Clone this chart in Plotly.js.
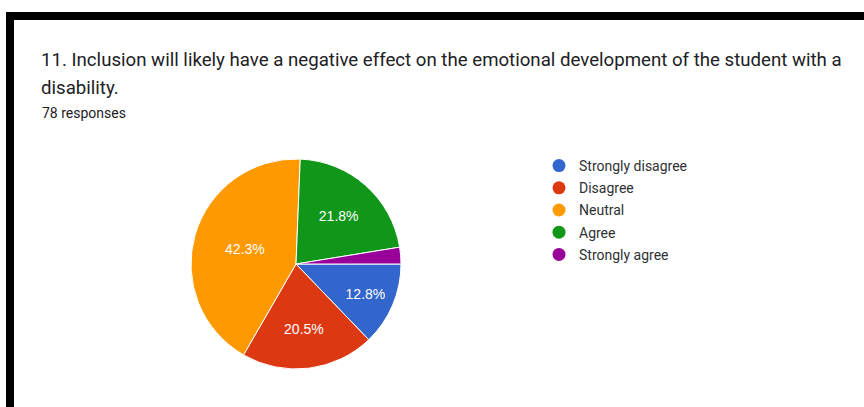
<!DOCTYPE html>
<html>
<head>
<meta charset="utf-8">
<script src="https://cdn.plot.ly/plotly-3.0.1.min.js"></script>
<style>
  html, body { margin: 0; padding: 0; background: #ffffff; }
  #chart { width: 864px; height: 407px; }
</style>
</head>
<body>
<div id="chart"></div>
<script>
// Data (78 responses)
const categories = ['Strongly disagree', 'Disagree', 'Neutral', 'Agree', 'Strongly agree'];
const counts = [10, 16, 33, 17, 2];
const colors = ['#3366cc', '#dc3912', '#ff9900', '#109618', '#990099'];
const titleLines = ['11. Inclusion will likely have a negative effect on the emotional development of the student with a', 'disability.'];
const subtitle = '78 responses';

const W = 864, H = 407;
const px = x => x / W;
const py = y => 1 - y / H;

const total = counts.reduce((a, b) => a + b, 0);
const labelsText = counts.map(c => {
  const p = c / total * 100;
  return p >= 5 ? p.toFixed(1) + '%' : '';
});

const pie = {
  type: 'pie',
  labels: categories,
  values: counts,
  marker: { colors: colors, line: { color: '#ffffff', width: 1 } },
  sort: false,
  direction: 'clockwise',
  rotation: 90,
  text: labelsText,
  textinfo: 'text',
  textposition: 'inside',
  insidetextorientation: 'horizontal',
  insidetextfont: { family: '"Liberation Sans", Arial, sans-serif', size: 14, color: '#ffffff' },
  hoverinfo: 'none',
  showlegend: false,
  domain: { x: [px(191), px(401)], y: [py(369), py(159)] }
};

const legendTraces = categories.map((c, i) => ({
  type: 'scatter',
  mode: 'markers',
  x: [null], y: [null],
  name: c,
  legendgroup: 'g' + i,
  marker: { color: colors[i], size: 13, symbol: 'circle' },
  hoverinfo: 'none',
  xaxis: 'x', yaxis: 'y'
}));

const annotations = [
  { text: titleLines[0], x: px(39), y: py(60), size: 18.65, color: '#202124' },
  { text: titleLines[1], x: px(39), y: py(88), size: 18.65, color: '#202124' },
  { text: subtitle, x: px(40), y: py(113), size: 14, color: '#202124' }
].map(a => ({
  xref: 'paper', yref: 'paper', x: a.x, y: a.y,
  xanchor: 'left', yanchor: 'middle', showarrow: false,
  text: a.text, font: { family: 'Roboto, Arial, sans-serif', size: a.size, color: a.color }
}));

const layout = {
  width: W, height: H,
  margin: { l: 0, r: 0, t: 0, b: 0 },
  paper_bgcolor: '#ffffff', plot_bgcolor: 'rgba(0,0,0,0)',
  xaxis: { visible: false, domain: [0.9, 1] },
  yaxis: { visible: false, domain: [0.9, 1] },
  showlegend: true,
  legend: {
    x: px(539), y: py(150), xanchor: 'left', yanchor: 'top',
    font: { family: 'Roboto, Arial, sans-serif', size: 14, color: '#303134' },
    tracegroupgap: 1,
    bgcolor: 'rgba(0,0,0,0)'
  },
  annotations: annotations,
  shapes: [
    { type: 'rect', xref: 'paper', yref: 'paper', x0: px(6), x1: 1, y0: py(20), y1: py(12), fillcolor: '#000000', line: { width: 0 } },
    { type: 'rect', xref: 'paper', yref: 'paper', x0: px(6), x1: px(14), y0: 0, y1: py(12), fillcolor: '#000000', line: { width: 0 } }
  ]
};

Plotly.newPlot('chart', [pie].concat(legendTraces), layout, { displayModeBar: false, staticPlot: true });
</script>
</body>
</html>
